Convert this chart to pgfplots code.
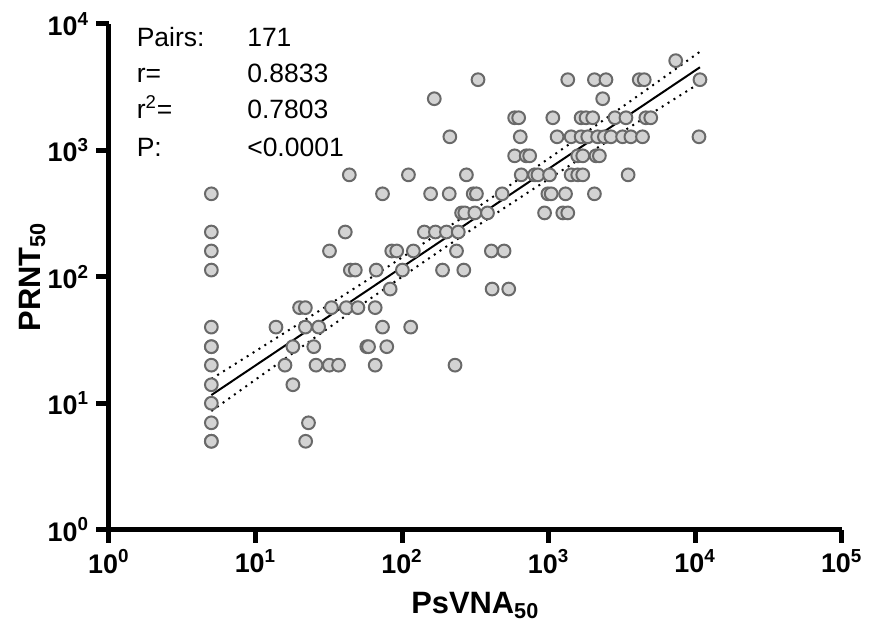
\documentclass[border=0pt]{standalone}
\usepackage{fontspec}
\setmainfont{Liberation Sans}
\usepackage{pgfplots}
\pgfplotsset{compat=1.18}
\usepackage{pgfplotstable}

\definecolor{ptfill}{RGB}{211,211,211}
\definecolor{ptedge}{RGB}{105,105,105}

% PsVNA50 vs PRNT50 pairs
\pgfplotstableread{
x y
5 453
5 226
5 160
5 113
5 40
5 28
5 28
5 20
5 14
5 10
5 7
5 5
5 5
22 5
23 7
18 14
15.9 20
25.9 20
31.9 20
36.9 20
65.6 20
230 20
18 28
25 28
57.5 28
59.1 28
78.7 28
13.8 40
21.9 40
27 40
73.6 40
114.6 40
20 57
21.9 57
33 57
41.7 57
50 57
65.6 57
83 80
411.9 80
534.7 80
44.4 113
48 113
66.7 113
100.6 113
189 113
264 113
32 160
85.1 160
92 160
119.5 160
235.4 160
407 160
497 160
41 226
142 226
169 226
201 226
242 226
255 320
268 320
314 320
383 320
939 320
1250 320
1352 320
73.6 453
156.7 453
210 453
306 453
322 453
482 453
989 453
1042 453
1305 453
2055 453
43.7 640
110.6 640
275 640
651 640
803 640
846 640
1016 640
1425 640
1581 640
1711 640
3490 640
587 905
704 905
743 905
1581 905
1711 905
2107 905
2222 905
212 1280
641 1280
1143 1280
1425 1280
1667 1280
1851 1280
2163 1280
2403 1280
2666 1280
3200 1280
3645 1280
4375 1280
10625 1280
587 1810
625 1810
1069 1810
1667 1810
1802 1810
2000 1810
2836 1810
3373 1810
4610 1810
4980 1810
166 2560
2340 2560
330 3620
1352 3620
2055 3620
2464 3620
4155 3620
4495 3620
10790 3620
7370 5120
}\pairs

\begin{document}
\begin{tikzpicture}
\begin{loglogaxis}[
  scale only axis,
  width=368pt, height=254pt,
  xmin=1, xmax=100000,
  ymin=1, ymax=10000,
  axis x line=bottom, axis y line=left,
  axis line style={-, line width=2.5pt, black},
  tick align=outside,
  major tick length=6.5pt,
  tick style={line width=2.5pt, black},
  xminorticks=false, yminorticks=false,
  xtick={1,10,100,1000,10000,100000},
  xticklabels={10\textsuperscript{0},10\textsuperscript{1},10\textsuperscript{2},10\textsuperscript{3},10\textsuperscript{4},10\textsuperscript{5}},
  ytick={1,10,100,1000,10000},
  yticklabels={10\textsuperscript{0},10\textsuperscript{1},10\textsuperscript{2},10\textsuperscript{3},10\textsuperscript{4}},
  ticklabel style={font=\fontsize{13.5}{15}\selectfont\bfseries},
  xlabel={PsVNA\textsubscript{50}},
  ylabel={PRNT\textsubscript{50}},
  label style={font=\fontsize{15.5}{18}\selectfont\bfseries},
  xlabel style={at={(axis description cs:0.5,-0.165)}, anchor=base},
  ylabel style={at={(axis description cs:-0.094,0.5)}, anchor=base},
  clip=false,
]
\coordinate (sw) at (rel axis cs:0,0);

\addplot[only marks, mark=*, mark size=3.2pt,
  mark options={fill=ptfill, draw=ptedge, line width=1pt}] table {\pairs};

% regression line and 95% band
\addplot[black, line width=1pt] coordinates {(5,11.6) (10790,4540)};
\addplot[black, line width=1pt, dash pattern=on 1pt off 2.5pt, smooth] coordinates {
  (5,15.57) (15.85,36.12) (63.1,100.4) (251.2,287.9) (1000,860.3) (3981,2650) (10790,6030)};
\addplot[black, line width=1pt, dash pattern=on 1pt off 2.5pt, smooth] coordinates {
  (5,8.666) (15.85,22.45) (63.1,69.17) (251.2,206.7) (1000,592.6) (3981,1648) (10790,3412)};

\begin{scope}[every node/.style={anchor=base west, font=\fontsize{13.3}{15}\selectfont, inner sep=0pt}]
\node at (rel axis cs:0.0375,0.956) {Pairs:};
\node at (rel axis cs:0.0375,0.884) {r=};
\node at (rel axis cs:0.0375,0.812) {r\textsuperscript{2}=};
\node at (rel axis cs:0.0375,0.737) {P:};
\node at (rel axis cs:0.1883,0.956) {171};
\node at (rel axis cs:0.1883,0.884) {0.8833};
\node at (rel axis cs:0.1883,0.812) {0.7803};
\node at (rel axis cs:0.1883,0.737) {<0.0001};
\end{scope}
\end{loglogaxis}
\path ([shift={(-54.7pt,-55.5pt)}]sw) rectangle ([shift={(379.8pt,266pt)}]sw);
\end{tikzpicture}
\end{document}
